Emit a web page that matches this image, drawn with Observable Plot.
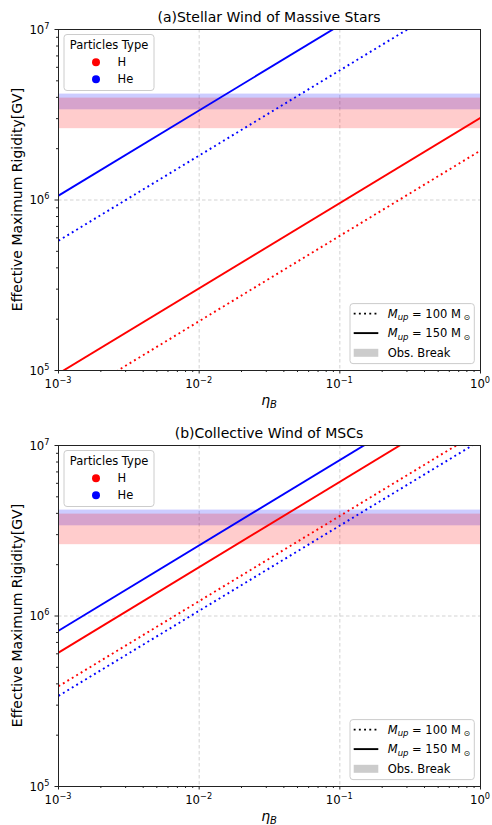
<!DOCTYPE html>
<html><head><meta charset="utf-8">
<script src="https://cdn.jsdelivr.net/npm/d3@7"></script>
<script src="https://cdn.jsdelivr.net/npm/@observablehq/plot@0.6"></script>
<style>
body{margin:0;background:#fff;}
#chart{width:492px;}
svg{display:block;font-family:"DejaVu Sans",sans-serif;}
</style>
</head><body><div id="chart"></div>
<script>
// ---- data ----
const etaRange = [1e-3, 1];              // eta_B at the two ends of each straight (log-log) line
const rigidityRange = [1e5, 1e7];
const xMajorTicks = [1e-3, 1e-2, 1e-1, 1];
const xTickExp = ["\u22123", "\u22122", "\u22121", "0"];
const yMajorTicks = [1e5, 1e6, 1e7];
const yTickExp = ["5", "6", "7"];
const particles = ["H", "He"];
const particleColors = ["#ff0000", "#0000ff"];
const massLabels = ["100", "150"];
// observed break bands [low, high] in GV
const bandH = [2.62e6, 3.96e6];
const bandHe = [3.38e6, 4.18e6];
// panel (a): rigidity at eta=1e-3 and eta=1
const aH100 = [6.15e4, 1.95e6];
const aH150 = [9.6e4, 3.03e6];
const aHe100 = [5.77e5, 1.82e7];
const aHe150 = [1.06e6, 3.35e7];
// panel (b)
const bH100 = [3.87e5, 1.22e7];
const bH150 = [6.1e5, 1.94e7];
const bHe100 = [3.4e5, 1.07e7];
const bHe150 = [8.2e5, 2.6e7];

const titles = ["(a)Stellar Wind of Massive Stars", "(b)Collective Wind of MSCs"];

const panels = [
  {title: titles[0], h: 412, mt: 29, mb: 42,
   series: [["H","100",aH100],["H","150",aH150],["He","100",aHe100],["He","150",aHe150]]},
  {title: titles[1], h: 413, mt: 33, mb: 39,
   series: [["H","100",bH100],["H","150",bH150],["He","100",bHe100],["He","150",bHe150]]}
];

const W = 492, ML = 58, MR = 12;
const colorOf = p => particleColors[particles.indexOf(p)];

// minor tick positions
const minorX = [], minorY = [];
for (let e = -3; e < 0; e++) for (let k = 2; k <= 9; k++) minorX.push(k * Math.pow(10, e));
for (let e = 5; e < 7; e++) for (let k = 2; k <= 9; k++) minorY.push(k * Math.pow(10, e));

const bands = [
  {particle: "He", lo: bandHe[0], hi: bandHe[1]},
  {particle: "H", lo: bandH[0], hi: bandH[1]}
];

const DOT = "1.9,3.3";

function drawPanel(cfg) {
  const rows = [];
  cfg.series.forEach(([p, m, vals]) => etaRange.forEach((e, i) => rows.push({eta: e, R: vals[i], particle: p, mass: m})));
  const lineOpts = {x: "eta", y: "R", z: d => d.particle + d.mass, stroke: d => colorOf(d.particle), strokeWidth: 1.9, strokeLinecap: "butt", clip: true};
  const plot = Plot.plot({
    width: W, height: cfg.h, marginTop: cfg.mt, marginBottom: cfg.mb, marginLeft: ML, marginRight: MR,
    x: {type: "log", domain: etaRange, label: null},
    y: {type: "log", domain: rigidityRange, label: null},
    color: {type: "identity"},
    style: {fontFamily: "DejaVu Sans", fontSize: "11.5px", background: "white", color: "#000", overflow: "visible"},
    marks: [
      Plot.ruleX(xMajorTicks.slice(1, -1), {stroke: "#c8c8c8", strokeWidth: 0.8, strokeDasharray: "3.5,2.5"}),
      Plot.ruleY(yMajorTicks.slice(1, -1), {stroke: "#c8c8c8", strokeWidth: 0.8, strokeDasharray: "3.5,2.5"}),
      Plot.rect(bands, {x1: () => etaRange[0], x2: () => etaRange[1], y1: "lo", y2: "hi", fill: d => colorOf(d.particle), fillOpacity: 0.2}),
      Plot.line(rows.filter(d => d.mass === "150"), lineOpts),
      Plot.line(rows.filter(d => d.mass === "100"), {...lineOpts, strokeDasharray: DOT}),
      Plot.frame({stroke: "#222", strokeWidth: 1}),
      Plot.axisX({ticks: xMajorTicks, tickSize: 3.5, tickFormat: () => "", label: null, stroke: "#222"}),
      Plot.axisX({ticks: minorX, tickSize: 2, tickFormat: () => "", label: null, stroke: "#222"}),
      Plot.axisY({ticks: yMajorTicks, tickSize: 3.5, tickFormat: () => "", label: null, stroke: "#222"}),
      Plot.axisY({ticks: minorY, tickSize: 2, tickFormat: () => "", label: null, stroke: "#222"})
    ]
  });
  const sx = plot.scale("x"), sy = plot.scale("y");
  const svg = d3.select(plot);
  const top = cfg.mt, bottom = cfg.h - cfg.mb, left = ML, right = W - MR;
  const g = svg.append("g").attr("fill", "#000").attr("font-family", "DejaVu Sans").attr("text-anchor", "start");

  // tick labels
  xMajorTicks.forEach((v, i) => {
    const t = g.append("text").attr("x", sx.apply(v)).attr("y", bottom + 18).attr("text-anchor", "middle").attr("font-size", 11.7);
    t.append("tspan").text("10");
    t.append("tspan").attr("dy", -5).attr("font-size", 8.2).text(xTickExp[i]);
  });
  yMajorTicks.forEach((v, i) => {
    const t = g.append("text").attr("x", left - 8.5).attr("y", sy.apply(v) + 4.5).attr("text-anchor", "end").attr("font-size", 11.7);
    t.append("tspan").text("10");
    t.append("tspan").attr("dy", -5).attr("font-size", 8.2).text(yTickExp[i]);
  });

  // title
  g.append("text").attr("x", (left + right) / 2).attr("y", top - 7).attr("text-anchor", "middle").attr("font-size", 14).text(cfg.title);
  // y label
  g.append("text").attr("transform", `translate(22,${(top + bottom) / 2}) rotate(-90)`).attr("text-anchor", "middle").attr("font-size", 14).text("Effective Maximum Rigidity[GV]");
  // x label
  const xl = g.append("text").attr("x", (left + right) / 2).attr("y", bottom + 35).attr("text-anchor", "middle").attr("font-size", 14);
  xl.append("tspan").attr("font-style", "italic").text("\u03b7");
  xl.append("tspan").attr("font-style", "italic").attr("font-size", 10).attr("dy", 3).text("B");

  // legend 1: particle types
  const l1 = g.append("g");
  l1.append("rect").attr("x", left + 6).attr("y", top + 5.5).attr("width", 90).attr("height", 56).attr("rx", 3)
    .attr("fill", "white").attr("fill-opacity", 0.8).attr("stroke", "#cccccc").attr("stroke-width", 1);
  l1.append("text").attr("x", left + 51).attr("y", top + 19.5).attr("text-anchor", "middle").attr("font-size", 11.5).text("Particles Type");
  particles.forEach((p, i) => {
    const yy = top + 33.3 + i * 17;
    l1.append("circle").attr("cx", left + 38).attr("cy", yy).attr("r", 4).attr("fill", particleColors[i]);
    l1.append("text").attr("x", left + 59.5).attr("y", yy + 4).attr("font-size", 11.5).text(p);
  });

  // legend 2: mass / obs break
  const l2 = g.append("g");
  l2.append("rect").attr("x", right - 130).attr("y", bottom - 66.4).attr("width", 124.3).attr("height", 60).attr("rx", 3)
    .attr("fill", "white").attr("fill-opacity", 0.8).attr("stroke", "#cccccc").attr("stroke-width", 1);
  const lx0 = right - 126.3, lx1 = right - 101.7, tx = right - 92.3;
  massLabels.forEach((m, i) => {
    const yy = bottom - 56.4 + i * 19.5;
    l2.append("line").attr("x1", lx0).attr("x2", lx1).attr("y1", yy).attr("y2", yy).attr("stroke", "#000").attr("stroke-width", 1.9)
      .attr("stroke-dasharray", m === "100" ? DOT : null);
    const t = l2.append("text").attr("x", tx).attr("y", yy + 4).attr("font-size", 11.5);
    t.append("tspan").attr("font-style", "italic").text("M");
    t.append("tspan").attr("font-style", "italic").attr("font-size", 8.5).attr("dy", 2.5).text("up");
    t.append("tspan").attr("dy", -2.5).text(" = " + m + " M");
    t.append("tspan").attr("font-size", 8).attr("dy", 2.5).text(" \u2299");
  });
  const py = bottom - 17.2;
  l2.append("rect").attr("x", lx0).attr("y", py - 4).attr("width", lx1 - lx0).attr("height", 8).attr("fill", "#cccccc");
  l2.append("text").attr("x", tx).attr("y", py + 4).attr("font-size", 11.5).text("Obs. Break");

  return plot;
}

const chart = document.getElementById("chart");
panels.forEach(p => chart.appendChild(drawPanel(p)));
</script>
</body></html>
